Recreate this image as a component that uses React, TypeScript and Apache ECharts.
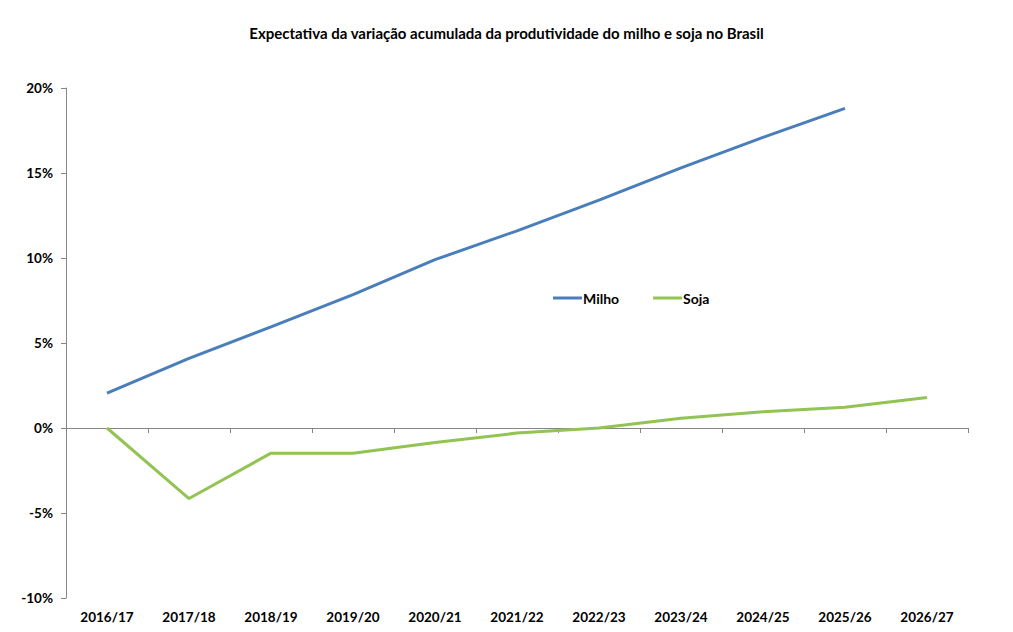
import React, { useEffect, useRef } from "react";
import * as echarts from "echarts";

const safras = [
  "2016/17", "2017/18", "2018/19", "2019/20", "2020/21", "2021/22",
  "2022/23", "2023/24", "2024/25", "2025/26", "2026/27",
];
// Variação acumulada (%) em relação a 2016/17
const milho = [2.05, 4.1, 5.95, 7.85, 9.9, 11.6, 13.4, 15.3, 17.1, 18.8, null];
const soja = [0.0, -4.15, -1.48, -1.48, -0.85, -0.3, 0.0, 0.58, 0.95, 1.22, 1.8];
const yTicks = { min: -10, max: 20, step: 5 };

const FONT = "Lato";
const AXIS_GRAY = "#868686";

export default function App() {
  const ref = useRef<HTMLDivElement>(null);

  useEffect(() => {
    if (!ref.current) return;
    const chart = echarts.init(ref.current, null, { renderer: "svg" });
    chart.setOption({
      animation: false,
      backgroundColor: "#ffffff",
      title: {
        text: "Expectativa da variação acumulada da produtividade do milho e soja no Brasil",
        left: "center",
        top: 20,
        textStyle: { fontFamily: FONT, fontWeight: "bold", fontSize: 15, color: "#000" },
      },
      legend: {
        left: 548,
        top: 286,
        itemWidth: 29,
        itemHeight: 3,
        itemGap: 34,
        icon: "rect",
        textStyle: { fontFamily: FONT, fontWeight: "bold", fontSize: 14, color: "#000", padding: [0, 0, 0, -4] },
        data: ["Milho", "Soja"],
      },
      grid: { left: 66, right: 45, top: 88, bottom: 34, containLabel: false },
      xAxis: [
        {
          type: "category",
          data: safras,
          boundaryGap: true,
          axisLine: { show: false, onZero: false },
          axisTick: { show: false },
          axisLabel: {
            margin: 12,
            fontFamily: FONT,
            fontWeight: "bold",
            fontSize: 13.5,
            color: "#000",
            interval: 0,
          },
        },
        {
          type: "category",
          data: safras,
          boundaryGap: true,
          position: "bottom",
          axisLine: { show: true, onZero: true, lineStyle: { color: AXIS_GRAY, width: 1 } },
          axisTick: { show: true, length: 5, lineStyle: { color: AXIS_GRAY } },
          axisLabel: { show: false },
        },
      ],
      yAxis: {
        type: "value",
        min: yTicks.min,
        max: yTicks.max,
        interval: yTicks.step,
        axisLine: { show: true, lineStyle: { color: AXIS_GRAY, width: 1 } },
        axisTick: { show: true, length: 5, lineStyle: { color: AXIS_GRAY } },
        splitLine: { show: false },
        axisLabel: {
          margin: 13,
          formatter: (v: number) => `${v}%`,
          fontFamily: FONT,
          fontWeight: "bold",
          fontSize: 13.5,
          color: "#000",
        },
      },
      series: [
        {
          name: "Milho",
          type: "line",
          data: milho,
          xAxisIndex: 0,
          symbol: "none",
          lineStyle: { color: "#4A7EBB", width: 3 },
          itemStyle: { color: "#4A7EBB" },
        },
        {
          name: "Soja",
          type: "line",
          data: soja,
          xAxisIndex: 0,
          symbol: "none",
          lineStyle: { color: "#92C353", width: 3 },
          itemStyle: { color: "#92C353" },
        },
      ],
    });
    return () => chart.dispose();
  }, []);

  return (
    <div
      ref={ref}
      style={{ position: "fixed", left: 0, top: 0, width: 1013, height: 632 }}
    />
  );
}
